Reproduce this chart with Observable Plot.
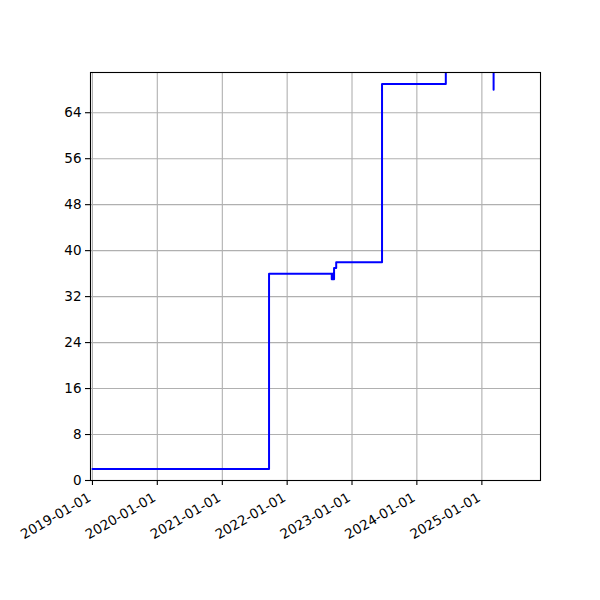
<!DOCTYPE html>
<html>
<head>
<meta charset="utf-8">
<script src="https://cdn.jsdelivr.net/npm/d3@7"></script>
<script src="https://cdn.jsdelivr.net/npm/@observablehq/plot@0.6"></script>
<style>
  html, body { margin: 0; padding: 0; background: white; }
  #chart svg { display: block; }
</style>
</head>
<body>
<div id="chart"></div>
<script>
// Data
const dates = ["2019-01-01", "2021-09-21", "2022-09-09", "2022-09-12", "2022-09-16", "2022-09-22", "2022-10-04", "2023-06-19", "2024-06-12", "2025-03-08"];
const values = [2, 36, 35, 36, 35, 37, 38, 69, 80, 68];
const xTickLabels = ["2019-01-01", "2020-01-01", "2021-01-01", "2022-01-01", "2023-01-01", "2024-01-01", "2025-01-01"];
const yTicks = [0, 8, 16, 24, 32, 40, 48, 56, 64];
const xDomain = ["2018-12-21", "2025-11-27"];
const yDomain = [0, 71];

const parse = d3.utcParse("%Y-%m-%d");
const rows = dates.map((d, i) => ({date: parse(d), value: values[i]}));
const xTicks = xTickLabels.map(parse);

const chart = Plot.plot({
  width: 600,
  height: 600,
  marginLeft: 90,
  marginRight: 60,
  marginTop: 72,
  marginBottom: 120,
  style: {fontFamily: "DejaVu Sans", fontSize: "13.5px", color: "black", background: "white"},
  x: {type: "utc", domain: xDomain.map(parse)},
  y: {domain: yDomain},
  marks: [
    Plot.gridX(xTicks, {stroke: "#b0b0b0", strokeOpacity: 1, strokeWidth: 1.1}),
    Plot.gridY(yTicks, {stroke: "#b0b0b0", strokeOpacity: 1, strokeWidth: 1.1}),
    Plot.line(rows, {x: "date", y: "value", curve: "step-after", stroke: "blue", strokeWidth: 2, clip: true}),
    Plot.frame({stroke: "black", strokeWidth: 1.1}),
    Plot.axisX({ticks: xTicks, tickFormat: () => "", tickSize: 5, label: null, strokeWidth: 1.1}),
    Plot.axisX({ticks: xTicks, tickFormat: d3.utcFormat("%Y-%m-%d"), tickRotate: -30, tickSize: 0, tickPadding: 9, dx: -2.7, dy: 7, label: null, fill: "black"}),
    Plot.axisY({ticks: yTicks, tickSize: 5, tickPadding: 4, label: null, fill: "black", strokeWidth: 1.1})
  ]
});
document.getElementById("chart").appendChild(chart);
</script>
</body>
</html>
